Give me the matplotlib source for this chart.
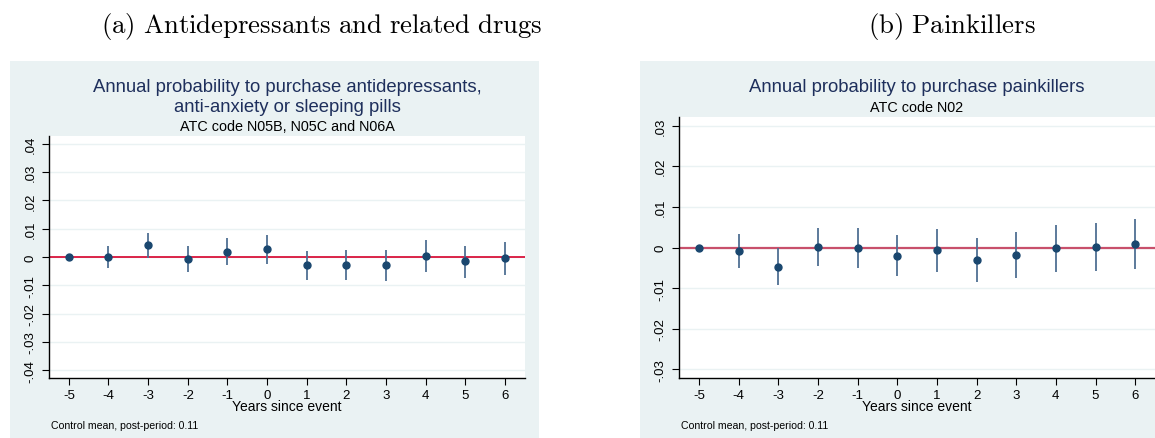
import matplotlib
matplotlib.use("Agg")
import matplotlib.pyplot as plt
from matplotlib.patches import Rectangle
import numpy as np

plt.rcParams['font.family'] = ['Liberation Sans', 'DejaVu Sans']
plt.rcParams['mathtext.fontset'] = 'cm'

years = [-5, -4, -3, -2, -1, 0, 1, 2, 3, 4, 5, 6]

# (a) antidepressants, anti-anxiety, sleeping pills
anti_est = [0.0, 0.0, 0.0041, -0.0007, 0.0019, 0.0027, -0.0030, -0.0027, -0.0030, 0.0005, -0.0015, -0.0005]
anti_hi = [0.0, 0.0039, 0.0084, 0.0039, 0.0067, 0.0077, 0.0021, 0.0025, 0.0025, 0.0060, 0.0040, 0.0053]
anti_lo = [0.0, -0.0040, -0.0002, -0.0053, -0.0030, -0.0024, -0.0083, -0.0081, -0.0085, -0.0052, -0.0073, -0.0063]

# (b) painkillers
pain_est = [0.0, -0.0009, -0.0047, 0.0002, -0.0001, -0.0020, -0.0007, -0.0031, -0.0018, -0.0002, 0.0001, 0.0008]
pain_hi = [0.0, 0.0034, -0.0002, 0.0049, 0.0048, 0.0031, 0.0046, 0.0024, 0.0038, 0.0056, 0.0061, 0.0070]
pain_lo = [0.0, -0.0051, -0.0092, -0.0045, -0.0051, -0.0071, -0.0061, -0.0086, -0.0075, -0.0061, -0.0058, -0.0053]

anti_yticks = [-0.04, -0.03, -0.02, -0.01, 0, 0.01, 0.02, 0.03, 0.04]
anti_ylabels = ['-.04', '-.03', '-.02', '-.01', '0', '.01', '.02', '.03', '.04']
pain_yticks = [-0.03, -0.02, -0.01, 0, 0.01, 0.02, 0.03]
pain_ylabels = ['-.03', '-.02', '-.01', '0', '.01', '.02', '.03']

W, H = 1155, 439
BG = '#eaf2f3'
NAVY = '#1a476f'
CI = '#4f6f93'

fig = plt.figure(figsize=(W / 100, H / 100), dpi=100)


def box(x0, y0, x1, y1):
    # pixel box (top-left origin) -> figure fraction rect
    return [x0 / W, 1 - y1 / H, (x1 - x0) / W, (y1 - y0) / H]


def panel(bx, ax_rect, est, lo, hi, yticks, ylabels, ylim, title, subtitle, label, redcol, redlw):
    fig.patches.append(Rectangle((bx[0] / W, 0), (bx[1] - bx[0]) / W, 1 - bx[2] / H,
                                 transform=fig.transFigure, facecolor=BG, edgecolor='none', zorder=-5))
    ax = fig.add_axes(box(*ax_rect))
    ax.set_zorder(2)
    ax.set_facecolor('white')
    for t in yticks:
        ax.axhline(t, color=BG, lw=1.0, zorder=1)
    ax.axhline(0, color=redcol, lw=redlw, zorder=2)
    ax.vlines(years, lo, hi, color=CI, lw=1.3, zorder=3)
    ax.plot(years, est, 'o', color=NAVY, ms=5, zorder=4)
    ax.set_xlim(-5.5, 6.5)
    ax.set_ylim(*ylim)
    ax.set_xticks(years)
    ax.set_xticklabels([str(y) for y in years])
    ax.set_yticks(yticks)
    ax.set_yticklabels(ylabels, rotation=90, va='center')
    ax.tick_params(axis='both', length=5, width=0.8, labelsize=9.5, color='black')
    ax.tick_params(axis='x', pad=3)
    ax.tick_params(axis='y', pad=4)
    for s in ['top', 'right']:
        ax.spines[s].set_visible(False)
    for s in ['left', 'bottom']:
        ax.spines[s].set_linewidth(1.0)
    cx = (ax_rect[0] + ax_rect[2]) / 2 / W
    fig.text(cx, 1 - 407.5 / H, 'Years since event', ha='center', va='center', fontsize=10)
    fig.text((ax_rect[0] + 2) / W, 1 - 426 / H, 'Control mean, post-period: 0.11',
             ha='left', va='center', fontsize=7.6)
    ty = 87
    for line in title:
        fig.text(cx, 1 - ty / H, line, ha='center', va='center', fontsize=13.3, color='#1e2f5c')
        ty += 20
    fig.text(cx, 1 - subtitle[1] / H, subtitle[0], ha='center', va='center', fontsize=10.4, color='black')
    fig.text(label[1] / W, 1 - 27 / H, label[0], ha='center', va='center', fontsize=19.3)
    return ax


panel((10, 539, 62), (49, 137, 525, 379), anti_est, anti_lo, anti_hi,
      anti_yticks, anti_ylabels, (-0.0428, 0.0428),
      ['Annual probability to purchase antidepressants,', 'anti-anxiety or sleeping pills'],
      ('ATC code N05B, N05C and N06A', 127),
      (r'$\mathrm{(a)\ Antidepressants\ and\ related\ drugs}$', 322), '#d6002b', 1.2)

panel((640, 1169, 62), (679, 118, 1155, 379), pain_est, pain_lo, pain_hi,
      pain_yticks, pain_ylabels, (-0.0321, 0.0321),
      ['Annual probability to purchase painkillers'],
      ('ATC code N02', 108),
      (r'$\mathrm{(b)\ Painkillers}$', 952), '#c8506b', 1.6)

fig.savefig('out.png', dpi=100)
